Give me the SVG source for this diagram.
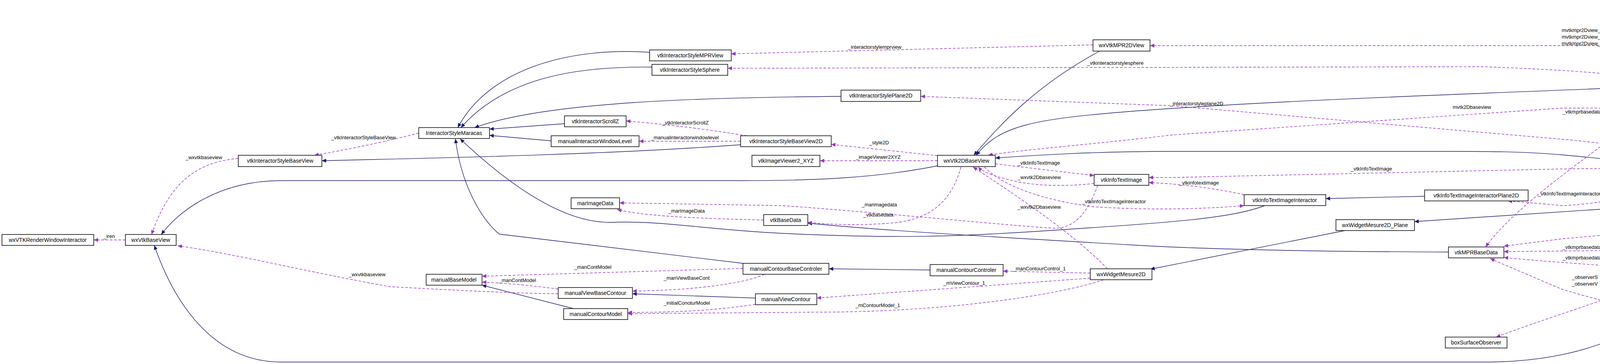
<svg xmlns="http://www.w3.org/2000/svg" width="6003" height="933" viewBox="0 0 6003 933">
<style>
.n rect{fill:#fff;stroke:#000;stroke-width:1.5}
.n text{font-family:"Liberation Sans",Arial,sans-serif;font-size:14px;fill:#000;text-anchor:middle}
.inh{fill:none;stroke:#191970;stroke-width:1.4;marker-end:url(#ai)}
.use{fill:none;stroke:#9a32cd;stroke-width:1.4;stroke-dasharray:7,4;marker-end:url(#au)}
.lb{font-family:"Liberation Sans",Arial,sans-serif;font-size:13px;fill:#000}
</style>
<defs>
<marker id="ai" markerUnits="userSpaceOnUse" markerWidth="12" markerHeight="10" refX="11" refY="5" orient="auto"><path d="M0,0 L11,5 L0,10 z" fill="#191970"/></marker>
<marker id="au" markerUnits="userSpaceOnUse" markerWidth="12" markerHeight="10" refX="11" refY="5" orient="auto"><path d="M0,0 L11,5 L0,10 z" fill="#9a32cd"/></marker>
</defs>
<rect width="6003" height="933" fill="#fff"/>
<g id="edges">
<path class="inh" d="M1663,134 C1450,120 1250,180 1172,327"/>
<path class="inh" d="M1669,172 C1500,170 1300,190 1180,327"/>
<path class="inh" d="M2153,247 C1800,250 1400,260 1215,327"/>
<path class="inh" d="M1445,317 L1253,331"/>
<path class="inh" d="M1411,361 L1253,347"/>
<path class="inh" d="M1896,371 C1500,400 1000,407 824,412"/>
<path class="inh" d="M3238,527 C3150,560 3000,570 2700,590 C2450,607 2300,612 2000,598 C1800,588 1700,565 1560,570 C1450,570 1320,490 1178,356"/>
<path class="inh" d="M1902,675 L1278,600 C1230,560 1180,470 1166,356"/>
<path class="inh" d="M2400,425 C2250,455 2100,463 1900,463 L720,463 C550,463 450,550 413,601"/>
<path class="inh" d="M4280,783 C4150,880 4000,928 3800,928 L720,928 C520,928 430,730 395,629"/>
<path class="inh" d="M2815,131 C2650,220 2560,320 2493,398"/>
<path class="inh" d="M4247,221 C3800,240 3300,255 2900,285 C2650,305 2560,320 2499,398"/>
<path class="inh" d="M4242,420 L4000,397 C3900,388 3800,388 3700,388 L3000,388 C2800,388 2650,398 2548,405"/>
<path class="inh" d="M3647,503 L3394,509"/>
<path class="inh" d="M3443,591 L2945,690"/>
<path class="inh" d="M4628,501 L3621,568"/>
<path class="inh" d="M2381,692 L2122,689"/>
<path class="inh" d="M1934,764 L1619,753"/>
<path class="inh" d="M1468,791 L1234,731"/>
<path class="inh" d="M3708,646 C3400,645 3100,640 2900,628 C2500,605 2250,590 2068,572"/>

<path class="use" d="M321,615 L240,615"/>
<path class="use" d="M610,406 C520,415 440,450 388,601"/>
<path class="use" d="M1072,341 C980,365 880,385 805,398"/>
<path class="use" d="M1429,753 C1300,752 1100,740 1000,735 C800,700 600,650 455,630"/>
<path class="use" d="M1912,348 C1800,330 1700,318 1603,310"/>
<path class="use" d="M1896,362 L1636,362"/>
<path class="use" d="M2798,115 L1872,138"/>
<path class="use" d="M4247,208 C4150,190 4050,181 3800,171 L1863,175"/>
<path class="use" d="M4272,415 C4200,380 4100,365 4000,357 L3000,271 L2357,247"/>
<path class="use" d="M2400,399 L2128,370"/>
<path class="use" d="M2400,412 L2099,412"/>
<path class="use" d="M2548,420 L2801,450"/>
<path class="use" d="M2801,470 C2750,477 2650,480 2580,460 C2540,450 2515,440 2504,428"/>
<path class="use" d="M2835,689 C2750,600 2600,500 2491,428"/>
<path class="use" d="M2520,428 C2570,480 2680,515 2800,530 C2950,540 3100,535 3185,527"/>
<path class="use" d="M2460,428 C2440,500 2400,555 2300,570 C2200,580 2120,575 2068,570"/>
<path class="use" d="M2810,475 C2790,530 2760,585 2700,585 C2600,580 2200,540 2000,527 L1586,520"/>
<path class="use" d="M1955,564 C1800,560 1650,555 1580,537"/>
<path class="use" d="M1902,688 L1234,708"/>
<path class="use" d="M1957,703 C1900,730 1750,745 1619,746"/>
<path class="use" d="M1429,741 C1350,730 1280,725 1234,723"/>
<path class="use" d="M1934,780 C1800,800 1700,800 1607,801"/>
<path class="use" d="M2825,717 C2700,760 2400,800 2100,800 L1607,804"/>
<path class="use" d="M2791,713 L2091,764"/>
<path class="use" d="M2791,700 L2568,695"/>
<path class="use" d="M3185,499 C3100,480 3000,470 2941,468"/>
<path class="use" d="M4242,430 L4000,433 L3000,455 L2941,455"/>
<path class="use" d="M4290,443 C4270,480 4150,520 4000,527 L3860,515"/>
<path class="use" d="M4628,487 C4550,478 4450,465 4350,443"/>
<path class="use" d="M4278,233 C4150,350 3900,500 3803,633"/>
<path class="use" d="M4221,641 L3850,645"/>
<path class="use" d="M4212,688 C4100,680 3950,670 3850,660"/>
<path class="use" d="M5137,525 C5000,530 4950,533 4800,540 L4000,612 L3850,631"/>
<path class="use" d="M5580,533 C5500,750 5300,900 5000,906 C4700,906 4300,830 4000,742 L3815,663"/>
<path class="use" d="M5235,505 C5200,300 5100,130 4900,117 L2944,117"/>
<path class="use" d="M5225,505 C5200,350 5100,230 5000,205 C4850,170 4750,160 4650,165 C4500,170 4420,190 4368,205"/>
<path class="use" d="M5190,505 C5150,420 5050,350 4900,300 C4800,276 4700,276 4000,277 L3000,346 C2800,370 2600,385 2530,398"/>
<path class="use" d="M5190,505 C5100,480 5000,462 4700,432 C4550,425 4450,428 4374,428"/>
<path class="use" d="M5137,512 L4885,498"/>
<path class="use" d="M5192,533 C5100,565 5000,578 4800,590 L4394,632"/>
<path class="use" d="M5225,533 C5180,600 5100,645 5000,651 L4839,659"/>
<path class="use" d="M5230,533 C5180,630 5100,670 5000,680 C4800,710 4500,740 4375,755"/>
<path class="use" d="M5235,533 C5200,650 5150,700 5000,740 L4829,762"/>
<path class="use" d="M5130,781 L5000,779 L4829,776"/>
<path class="use" d="M4812,789 C4880,815 4950,817 5000,817 C5080,815 5130,805 5165,799"/>
<path class="use" d="M4673,656 C4550,655 4450,660 4380,677"/>
<path class="use" d="M4680,673 C4550,700 4420,710 4338,755"/>
<path class="use" d="M4684,789 C4600,795 4440,760 4420,710 C4410,680 4405,665 4398,655"/>
<path class="use" d="M4700,789 C4600,820 4450,830 4348,783"/>
<path class="use" d="M4262,705 C4150,760 4000,800 3830,864"/>
<path class="use" d="M5476,519 L5336,519"/>
<path class="use" d="M5845,440 C5800,470 5700,500 5640,505"/>
<path class="use" d="M5833,412 C5780,395 5720,380 5660,372"/>
<path class="use" d="M5616,343 C5620,312 5568,312 5562,344"/>
<path class="use" d="M5565,344 L5260,84"/>
<path class="use" d="M5165,57 C5100,40 4950,32 4853,26"/>
<path class="use" d="M5165,70 L4825,70"/>

<text class="lb" x="265" y="610">_iren</text>
<text class="lb" x="475" y="408">_wxvtkbaseview</text>
<text class="lb" x="848" y="357">_vtkInteractorStyleBaseView</text>
<text class="lb" x="893" y="708">_wxvtkbaseview</text>
<text class="lb" x="1695" y="319">_vtkInteractorScrollZ</text>
<text class="lb" x="1666" y="357">_manualinteractorwindowlevel</text>
<text class="lb" x="2171" y="125">_interactorstylemprview</text>
<text class="lb" x="2783" y="166">_vtkinteractorstylesphere</text>
<text class="lb" x="2995" y="270">_interactorstyleplane2D</text>
<text class="lb" x="2225" y="370">_style2D</text>
<text class="lb" x="2191" y="407">_imageViewer2XYZ</text>
<text class="lb" x="2605" y="422">_vtkIinfoTextImage</text>
<text class="lb" x="2605" y="459">_wxvtk2Dbaseview</text>
<text class="lb" x="2605" y="535">_wxvtk2Dbaseview</text>
<text class="lb" x="2770" y="521">_vtkIinfoTextImageInteractor</text>
<text class="lb" x="2210" y="555">_vtkbasedata</text>
<text class="lb" x="2206" y="529">_marimagedata</text>
<text class="lb" x="1711" y="545">_marImageData</text>
<text class="lb" x="1470" y="689">_manContModel</text>
<text class="lb" x="1699" y="717">_manViewBaseCont</text>
<text class="lb" x="1277" y="723">_manContModel</text>
<text class="lb" x="1699" y="781">_initialConoturModel</text>
<text class="lb" x="2190" y="787">_mContourModel_1</text>
<text class="lb" x="2415" y="730">_mViewContour_1</text>
<text class="lb" x="2593" y="693">_manContourControl_1</text>
<text class="lb" x="3019" y="473">_vtkinfotextimage</text>
<text class="lb" x="3458" y="437">_vtkInfoTextImage</text>
<text class="lb" x="3937" y="501">_vtkInfoTextImageInteractorPlane2D</text>
<text class="lb" x="4459" y="461">_vtkplane2Dview</text>
<text class="lb" x="4000" y="291">_vtkmprbasedata</text>
<text class="lb" x="4000" y="638">_vtkmprbasedata</text>
<text class="lb" x="4000" y="665">_vtkmprbasedata</text>
<text class="lb" x="4453" y="555">mvtkmprbasedata</text>
<text class="lb" x="4694" y="896">mvtkmprbasedata</text>
<text class="lb" x="3998" y="82">mvtkmpr2Dview_X</text>
<text class="lb" x="3998" y="99">mvtkmpr2Dview_Y</text>
<text class="lb" x="3998" y="116">mvtkmpr2Dview_Z</text>
<text class="lb" x="4700" y="159">mwxsphereview</text>
<text class="lb" x="3719" y="279">mvtk2Dbaseview</text>
<text class="lb" x="4695" y="430">mvtkplane2Dview</text>
<text class="lb" x="4952" y="498">mwidgetMesure</text>
<text class="lb" x="4684" y="590">vtkmpr3Ddataviewer</text>
<text class="lb" x="4930" y="629">mwxvtkclipping3Dview</text>
<text class="lb" x="4648" y="697">mwxvtk3Dbaseview_Clipping3D</text>
<text class="lb" x="4941" y="711">mwxvtkmpr3Dview</text>
<text class="lb" x="4944" y="770">_wxvtkmpr3Dview</text>
<text class="lb" x="4912" y="805">_wxvtkmpr3DviewCntrlPanel</text>
<text class="lb" x="4429" y="653">_vtkclipping3Ddataviewer</text>
<text class="lb" x="4452" y="682">_wxvtk3Dbaseview</text>
<text class="lb" x="4440" y="734">_vtkmpr3Ddataviewer</text>
<text class="lb" x="4452" y="801">_wxvtk3Dbaseview</text>
<text class="lb" x="4024" y="715">_observerS</text>
<text class="lb" x="4024" y="732">_observerV</text>
<text class="lb" x="5373" y="461">wxwindow1</text>
<text class="lb" x="5373" y="478">wxwindow2</text>
<text class="lb" x="5373" y="495">wxwindow3</text>
<text class="lb" x="5373" y="512">wxwindow4</text>
<text class="lb" x="5723" y="465">viewer</text>
<text class="lb" x="5724" y="385">cutter</text>
<text class="lb" x="5558" y="315">instance</text>
<text class="lb" x="5370" y="178">cutmanager</text>
<text class="lb" x="4963" y="26">_cutterstyle</text>
<text class="lb" x="4955" y="65">_polygonCutter</text>
</g>
<g id="n1" class="n"><rect x="5" y="601" width="235" height="28"/><text x="122" y="620">wxVTKRenderWindowInteractor</text></g>
<g id="n2" class="n"><rect x="321" y="601" width="130" height="28"/><text x="386" y="620">wxVtkBaseView</text></g>
<g id="n3" class="n"><rect x="610" y="398" width="214" height="29"/><text x="717" y="417">vtkInteractorStyleBaseView</text></g>
<g id="n4" class="n"><rect x="1072" y="327" width="181" height="28"/><text x="1162" y="346">InteractorStyleMaracas</text></g>
<g id="n5" class="n"><rect x="1663" y="128" width="209" height="28"/><text x="1767" y="147">vtkInteractorStyleMPRView</text></g>
<g id="n6" class="n"><rect x="1669" y="165" width="194" height="28"/><text x="1766" y="184">vtkInteractorStyleSphere</text></g>
<g id="n7" class="n"><rect x="1445" y="297" width="158" height="28"/><text x="1524" y="316">vtkInteractorScrollZ</text></g>
<g id="n8" class="n"><rect x="1411" y="348" width="225" height="28"/><text x="1523" y="367">manualInteractorWindowLevel</text></g>
<g id="n9" class="n"><rect x="1896" y="348" width="232" height="28"/><text x="2012" y="367">vtkInteractorStyleBaseView2D</text></g>
<g id="n10" class="n"><rect x="1925" y="398" width="174" height="29"/><text x="2012" y="417">vtkImageViewer2_XYZ</text></g>
<g id="n11" class="n"><rect x="1462" y="507" width="124" height="28"/><text x="1524" y="526">marImageData</text></g>
<g id="n12" class="n"><rect x="1955" y="550" width="113" height="28"/><text x="2011" y="569">vtkBaseData</text></g>
<g id="n13" class="n"><rect x="1902" y="675" width="220" height="28"/><text x="2012" y="694">manualContourBaseControler</text></g>
<g id="n14" class="n"><rect x="1091" y="703" width="143" height="28"/><text x="1162" y="722">manualBaseModel</text></g>
<g id="n15" class="n"><rect x="1429" y="737" width="190" height="28"/><text x="1524" y="756">manualViewBaseContour</text></g>
<g id="n16" class="n"><rect x="1934" y="753" width="157" height="28"/><text x="2012" y="772">manualViewContour</text></g>
<g id="n17" class="n"><rect x="1443" y="791" width="164" height="28"/><text x="1525" y="810">manualContourModel</text></g>
<g id="n18" class="n"><rect x="2153" y="231" width="204" height="29"/><text x="2255" y="250">vtkInteractorStylePlane2D</text></g>
<g id="n19" class="n"><rect x="2798" y="102" width="146" height="29"/><text x="2871" y="121">wxVtkMPR2DView</text></g>
<g id="n20" class="n"><rect x="2400" y="398" width="148" height="29"/><text x="2474" y="417">wxVtk2DBaseView</text></g>
<g id="n21" class="n"><rect x="2801" y="447" width="140" height="28"/><text x="2871" y="466">vtkInfoTextImage</text></g>
<g id="n22" class="n"><rect x="2381" y="678" width="187" height="29"/><text x="2474" y="697">manualContourControler</text></g>
<g id="n23" class="n"><rect x="2791" y="689" width="158" height="28"/><text x="2870" y="708">wxWidgetMesure2D</text></g>
<g id="n24" class="n"><rect x="3185" y="499" width="209" height="28"/><text x="3289" y="518">vtkInfoTextImageInteractor</text></g>
<g id="n25" class="n"><rect x="3647" y="487" width="265" height="28"/><text x="3779" y="506">vtkInfoTextImageInteractorPlane2D</text></g>
<g id="n26" class="n"><rect x="3420" y="563" width="201" height="28"/><text x="3520" y="582">wxWidgetMesure2D_Plane</text></g>
<g id="n27" class="n"><rect x="3708" y="633" width="142" height="28"/><text x="3779" y="652">vtkMPRBaseData</text></g>
<g id="n28" class="n"><rect x="3700" y="864" width="158" height="28"/><text x="3779" y="883">boxSurfaceObserver</text></g>
<g id="n29" class="n"><rect x="4659" y="5" width="194" height="28"/><text x="4756" y="24">vtkInteractorStyleCutter</text></g>
<g id="n30" class="n"><rect x="4687" y="56" width="138" height="28"/><text x="4756" y="75">CutModelPolygon</text></g>
<g id="n31" class="n"><rect x="4247" y="205" width="121" height="28"/><text x="4307" y="224">wxSphereView</text></g>
<g id="n32" class="n"><rect x="4242" y="415" width="132" height="28"/><text x="4308" y="434">vtkPlane2DView</text></g>
<g id="n33" class="n"><rect x="4628" y="478" width="257" height="29"/><text x="4756" y="497">wxWidgetMesure2D_Plane_in_MPR</text></g>
<g id="n34" class="n"><rect x="4221" y="626" width="173" height="28"/><text x="4307" y="645">vtkMPR3DDataViewer</text></g>
<g id="n35" class="n"><rect x="4212" y="677" width="193" height="28"/><text x="4308" y="696">vtkClipping3DDataViewer</text></g>
<g id="n36" class="n"><rect x="4673" y="645" width="166" height="28"/><text x="4756" y="664">wxVtkClipping3DView</text></g>
<g id="n37" class="n"><rect x="4235" y="755" width="148" height="28"/><text x="4309" y="774">wxVtk3DBaseView</text></g>
<g id="n38" class="n"><rect x="4684" y="761" width="145" height="28"/><text x="4756" y="780">wxVtkMPR3DView</text></g>
<g id="n39" class="n"><rect x="5165" y="56" width="144" height="28"/><text x="5237" y="75">CutModelManager</text></g>
<g id="n40" class="n"><rect x="5512" y="344" width="153" height="28"/><text x="5588" y="363">CutModelMainPanel</text></g>
<g id="n41" class="n"><rect x="5793" y="412" width="206" height="28" style="fill:#bfbfbf"/><text x="5896" y="431">wxMaracasDialog_NViewers</text></g>
<g id="n42" class="n"><rect x="5137" y="505" width="199" height="28"/><text x="5236" y="524">wxMaracas_ViewerWidget</text></g>
<g id="n43" class="n"><rect x="5476" y="505" width="223" height="28"/><text x="5587" y="524">wxMaracas_N_ViewersWidget</text></g>
<g id="n44" class="n"><rect x="5130" y="771" width="215" height="28"/><text x="5237" y="790">wxVtkMPR3DViewCntrlPanel</text></g>
</svg>
